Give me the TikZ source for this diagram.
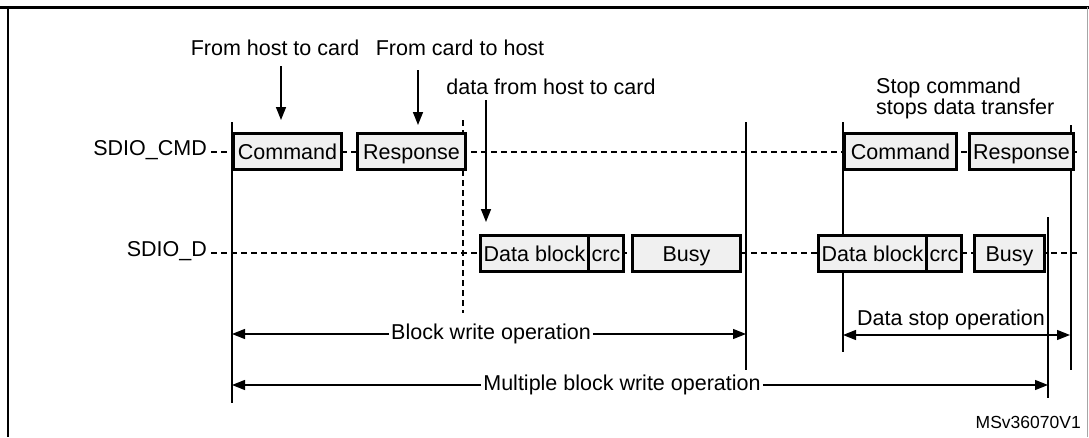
\documentclass[tikz,border=0pt]{standalone}
\usepackage{fontspec}
\setmainfont{Liberation Sans}
\usetikzlibrary{arrows.meta}

\begin{document}
\begin{tikzpicture}[x=1pt, y=-1pt,
  font=\fontsize{21.5}{24}\selectfont,
  >={Triangle[length=13pt,width=10pt]},
  sigbox/.style={draw, line width=3pt, fill=black!6, anchor=west, inner sep=0pt, minimum height=36pt, text height=16pt, text depth=0pt},
  bus/.style={dash pattern=on 6pt off 4pt, line width=1.2pt},
  marker/.style={line width=1.3pt},
  note/.style={inner sep=2pt},
  pointer/.style={->, line width=1.5pt}]
  \useasboundingbox (0,0) rectangle (1089,437);

  \draw[line width=3pt] (0,7) -- (1089,7);
  \draw[line width=2pt] (8,7) -- (8,437);
  \draw[black!35, line width=1pt] (1087,7) -- (1087,437);

  \node[anchor=mid east, inner sep=0pt] (cmd) at (207,153) {SDIO\_CMD};
  \node[anchor=mid east, inner sep=0pt] (dat) at (207,254) {SDIO\_D};
  \coordinate (cmdEnd) at (1079,152);
  \coordinate (datEnd) at (1079,253);
  \draw[bus] ([xshift=4pt]cmd.east |- cmdEnd) -- (cmdEnd);
  \draw[bus] ([xshift=4pt]dat.east |- datEnd) -- (datEnd);

  \draw[marker] (232,122) -- (232,403);
  \draw[bus] (463,120) -- (463,313);
  \draw[marker] (746,122) -- (746,370);
  \draw[marker] (843,122) -- (843,352);
  \draw[marker] (1071,125) -- (1071,370);
  \draw[marker] (1048,217) -- (1048,398);

  \node[sigbox, minimum width=108pt] (cmdA) at (232,151) {Command};
  \node[sigbox, minimum width=108pt] (rspA) at (356,151) {Response};
  \node[sigbox, minimum width=108pt] (datA) at (479,253) {Data block};
  \node[sigbox, minimum width=35pt] (crcA) at (587,253) {crc};
  \node[sigbox, minimum width=108pt] (busyA) at (631,253) {Busy};

  \node[sigbox, minimum width=112pt] (cmdB) at (843,151) {Command};
  \node[sigbox, minimum width=104pt] (rspB) at (968,151) {Response};
  \node[sigbox, minimum width=108pt] (datB) at (817,253) {Data block};
  \node[sigbox, minimum width=35pt] (crcB) at (925,253) {crc};
  \node[sigbox, minimum width=70pt] (busyB) at (973,253) {Busy};

  \node[note] (hostnote) at (275,48) {From host to card};
  \node[note] (cardnote) at (460,48) {From card to host};
  \node[note] (datanote) at (551,87) {data from host to card};
  \node[anchor=west, align=left, inner sep=0pt, font=\fontsize{21.5}{18}\selectfont] (stopnote) at (876,98) {Stop command\\stops data transfer};

  \coordinate (hostTip) at (281,120);
  \coordinate (cardTip) at (418,125);
  \coordinate (dataTip) at (486,222);
  \draw[pointer, shorten <=8pt] (hostnote.south -| hostTip) -- (hostTip);
  \draw[pointer, shorten <=12pt] (cardnote.south -| cardTip) -- (cardTip);
  \draw[pointer, shorten <=3pt] (datanote.south -| dataTip) -- (dataTip);

  \node[note] (blkop) at (491,334) {Block write operation};
  \coordinate (blkL) at (232,334);
  \coordinate (blkR) at (746,334);
  \draw[->, marker] (blkop.west) -- (blkL);
  \draw[->, marker] (blkop.east) -- (blkR);

  \node[note] (stopop) at (951,320) {Data stop operation};
  \coordinate (stopL) at (843,335);
  \coordinate (stopR) at (1070,335);
  \draw[<->, marker] (stopL) -- (stopR);

  \node[note] (multop) at (622,385) {Multiple block write operation};
  \coordinate (multL) at (232,385);
  \coordinate (multR) at (1048,385);
  \draw[->, marker] (multop.west) -- (multL);
  \draw[->, marker] (multop.east) -- (multR);

  \node[anchor=east, inner sep=0pt, font=\fontsize{17.5}{20}\selectfont] (figid) at (1081,422) {MSv36070V1};
\end{tikzpicture}
\end{document}
